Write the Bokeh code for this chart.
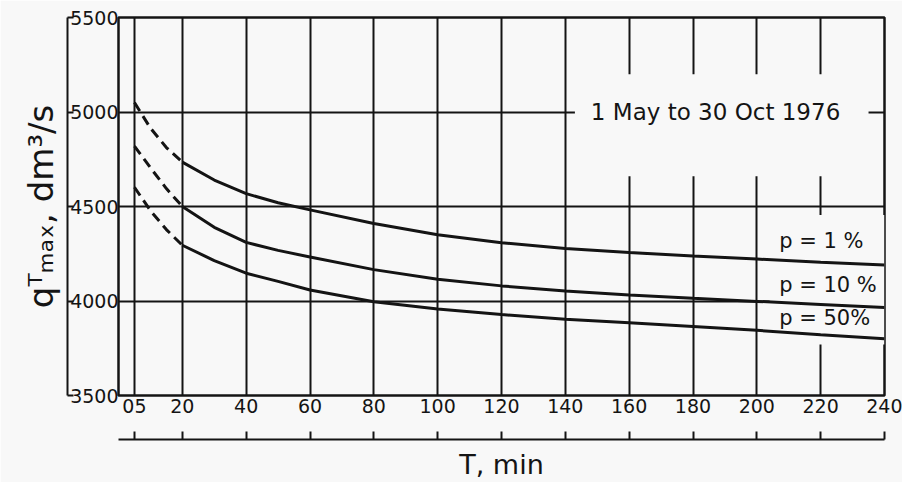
from bokeh.plotting import figure
from bokeh.models import LinearAxis, FixedTicker, BoxAnnotation, Label, Range1d
from bokeh.embed import file_html
from bokeh.resources import INLINE

# ---------------- data ----------------
t_dash = [5, 10, 15, 20]
p1_dash = [5050, 4915, 4812, 4735]
p10_dash = [4820, 4705, 4595, 4500]
p50_dash = [4602, 4478, 4378, 4295]

t_solid = [20, 30, 40, 50, 60, 80, 100, 120, 140, 160, 180, 200, 220, 240]
p1_solid = [4735, 4640, 4568, 4520, 4482, 4410, 4350, 4308, 4278, 4256, 4238, 4222, 4205, 4190]
p10_solid = [4500, 4390, 4310, 4268, 4233, 4166, 4115, 4080, 4053, 4032, 4014, 3998, 3982, 3965]
p50_solid = [4295, 4214, 4147, 4104, 4058, 3996, 3958, 3928, 3904, 3885, 3865, 3845, 3822, 3800]

series_labels = ["p = 1 %", "p = 10 %", "p = 50%"]
label_y = [4316, 4084, 3911]
label_x = 207

x_ticks = [5, 20, 40, 60, 80, 100, 120, 140, 160, 180, 200, 220, 240]
x_tick_labels = {5: "05"}
y_ticks = [3500, 4000, 4500, 5000, 5500]

period_text = "1 May to 30 Oct 1976"
x_title = "T, min"
y_title = "qᵀₘₐₓ, dm³/s"

# ---------------- style ----------------
INK = "#141414"
BG = "#f8f8f8"
FONT = "DejaVu Sans"

p = figure(width=902, height=482,
           x_range=Range1d(0, 240), y_range=Range1d(3500, 5500),
           output_backend="svg", toolbar_location=None,
           x_axis_location=None, y_axis_location=None,
           min_border_left=118, min_border_right=18,
           min_border_top=17, min_border_bottom=86)
p.background_fill_color = BG
p.border_fill_color = BG
p.outline_line_color = INK
p.outline_line_width = 2.5

xt = FixedTicker(ticks=x_ticks)
yt = FixedTicker(ticks=y_ticks)

# the figure's own grids, moved onto the chart's ticks
p.xgrid.ticker = xt
p.ygrid.ticker = yt
p.grid.grid_line_color = INK
p.grid.grid_line_width = 2
p.grid.grid_line_alpha = 1.0

# white-out areas where the original grid is interrupted by the lettering
for (l, r, b, t) in [(143, 235, 4660, 5200), (204, 240, 3770, 4455)]:
    box = BoxAnnotation(left=l, right=r, bottom=b, top=t, fill_color=BG, fill_alpha=1.0,
                        line_color=None, level="underlay")
    p.add_layout(box)

# ---------------- axes ----------------
ya = LinearAxis(ticker=yt, axis_line_color=None, major_tick_line_color=None,
                minor_tick_line_color=None, major_tick_in=0, major_tick_out=0,
                major_label_standoff=0, major_label_text_font=FONT,
                major_label_text_font_size="19px", major_label_text_color=INK)
p.add_layout(ya, "left")
yb = LinearAxis(ticker=yt, axis_line_color=INK, axis_line_width=2,
                major_tick_line_color=INK, major_tick_line_width=2,
                major_tick_in=6, major_tick_out=0, minor_tick_line_color=None,
                major_label_overrides={v: "" for v in y_ticks},
                major_label_text_font_size="1px", major_label_standoff=0,
                axis_label=y_title, axis_label_text_font=FONT,
                axis_label_text_font_size="34px", axis_label_text_font_style="normal",
                axis_label_text_color=INK, axis_label_standoff=7)
p.add_layout(yb, "left")

xa = LinearAxis(ticker=xt, axis_line_color=None, major_tick_line_color=None,
                minor_tick_line_color=None, major_tick_in=0, major_tick_out=0,
                major_label_standoff=3, major_label_overrides=x_tick_labels,
                major_label_text_font=FONT, major_label_text_font_size="19px",
                major_label_text_color=INK,
                axis_label=" ", axis_label_text_font_size="11px", axis_label_standoff=9)
p.add_layout(xa, "below")
xb = LinearAxis(ticker=xt, axis_line_color=INK, axis_line_width=2,
                major_tick_line_color=INK, major_tick_line_width=2,
                major_tick_in=8, major_tick_out=0, minor_tick_line_color=None,
                major_label_overrides={v: "" for v in x_ticks},
                major_label_text_font_size="1px", major_label_standoff=0,
                axis_label=x_title, axis_label_text_font=FONT,
                axis_label_text_font_size="27px", axis_label_text_font_style="normal",
                axis_label_text_color=INK, axis_label_standoff=9)
p.add_layout(xb, "below")

# ---------------- curves ----------------
for yd, ys in [(p1_dash, p1_solid), (p10_dash, p10_solid), (p50_dash, p50_solid)]:
    p.line(t_dash, yd, line_color=INK, line_width=3, line_dash="10 6")
    p.line(t_solid, ys, line_color=INK, line_width=3)

# ---------------- texts ----------------
p.add_layout(Label(x=148, y=5000, text=period_text, text_font=FONT,
                   text_font_size="23px", text_color=INK, text_baseline="middle"))
for txt, ly in zip(series_labels, label_y):
    p.add_layout(Label(x=label_x, y=ly, text=txt, text_font=FONT,
                       text_font_size="21px", text_color=INK, text_baseline="middle"))

open("out.html", "w").write(file_html(p, INLINE))
